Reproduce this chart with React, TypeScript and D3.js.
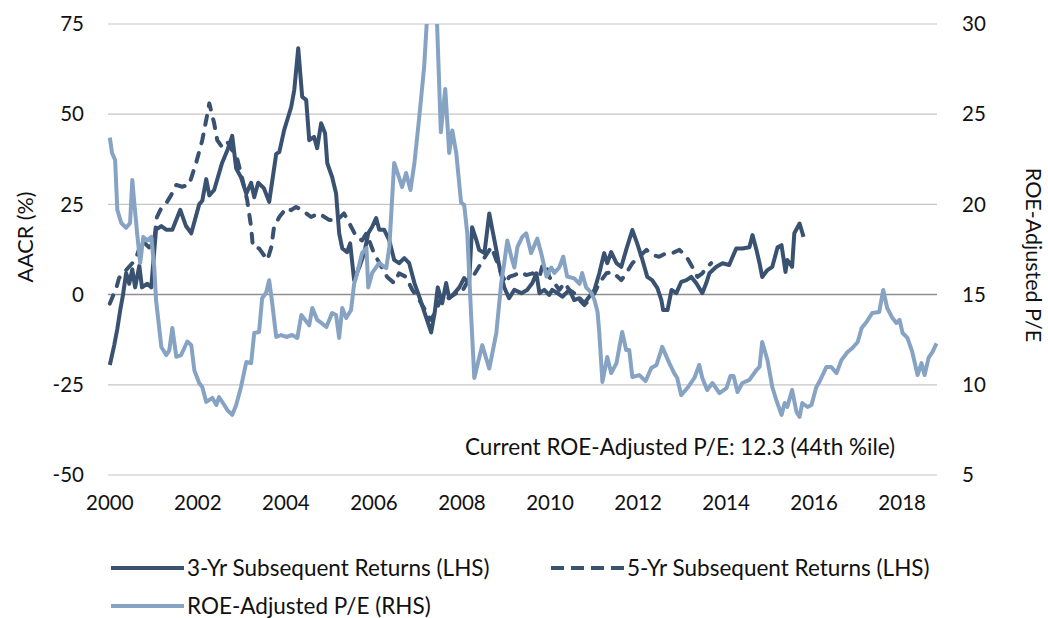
import React, { useEffect, useRef } from 'react';
import * as d3 from 'd3';

// decimal years
const threeYrDates = [2000, 2000.1, 2000.17, 2000.24, 2000.3, 2000.37, 2000.44, 2000.51, 2000.575, 2000.67, 2000.73, 2000.85, 2000.94,
  2001.05, 2001.17, 2001.28, 2001.42, 2001.6, 2001.73, 2001.85, 2002.03, 2002.1, 2002.19, 2002.26, 2002.37, 2002.55, 2002.67, 2002.78, 2002.87, 2002.98,
  2003.1, 2003.21, 2003.28, 2003.37, 2003.5, 2003.62, 2003.78, 2003.85, 2003.96, 2004.12, 2004.19, 2004.28, 2004.37, 2004.46, 2004.53, 2004.64, 2004.71, 2004.8, 2004.89, 2004.94,
  2005.05, 2005.14, 2005.21, 2005.28, 2005.39, 2005.46, 2005.55, 2005.67, 2005.78, 2005.87, 2005.96, 2006.05, 2006.12, 2006.23, 2006.35, 2006.46, 2006.57, 2006.69, 2006.8, 2006.92,
  2007.03, 2007.15, 2007.3, 2007.38, 2007.45, 2007.55, 2007.64, 2007.71, 2007.83, 2007.94, 2008.05, 2008.16, 2008.23, 2008.33, 2008.39, 2008.51, 2008.62, 2008.69, 2008.78, 2008.85, 2008.96,
  2009.07, 2009.19, 2009.35, 2009.48, 2009.6, 2009.69, 2009.76, 2009.87, 2009.98, 2010.05, 2010.17, 2010.28, 2010.44, 2010.55, 2010.67, 2010.78, 2010.89,
  2011.01, 2011.12, 2011.23, 2011.3, 2011.39, 2011.51, 2011.62, 2011.73, 2011.87, 2011.98, 2012.1, 2012.21, 2012.32, 2012.44, 2012.53, 2012.57, 2012.67, 2012.76, 2012.87, 2012.98,
  2013.1, 2013.21, 2013.32, 2013.46, 2013.55, 2013.62, 2013.78, 2013.92, 2014.07, 2014.23, 2014.37, 2014.53, 2014.6, 2014.69, 2014.76, 2014.82, 2014.94,
  2015.05, 2015.17, 2015.26, 2015.35, 2015.39, 2015.5, 2015.55, 2015.67, 2015.76];
const threeYrValues = [-19.5, -14, -9.5, -4, 0, 6, 3, 7, 2, 8, 2, 3, 2,
  18, 19, 18, 18, 23.5, 19, 17, 25, 26, 32, 27.5, 29, 36.5, 40, 44, 35, 32.5,
  28, 31, 27, 31, 29.5, 25.7, 39, 39.5, 45.6, 52, 56.7, 68.3, 54.8, 54, 42.8, 43.7, 40.6, 47.5, 44.7, 36.4,
  32.6, 28, 17, 12.8, 11.8, 14.2, 4, 7.7, 11.5, 17, 18.8, 21.2, 18, 18, 15, 9.6, 8.7, 10.1, 8.7, 3.2,
  -0.6, -5, -10.5, -5, 2, -2.4, 3.2, -1, 0.4, 2, 4.6, 3, 18.7, 15, 12.4, 11.5, 22.5, 18, 12.4, 7.7, 2,
  -1, 1.3, 0.4, 1.3, 3.2, 5.9, 0.4, 1.3, -0.1, 1.3, 0.4, -0.6, 1.3, -1.5, -1, -2.4, -0.6,
  1.3, 5.9, 11.5, 8.7, 11.8, 8.7, 7.7, 12.4, 17.9, 14.2, 9.6, 4.9, 4, 1.8, -1.5, -4.3, -4.3, 1.3, 0.4, 3.5,
  4, 4.9, 3.2, 0.4, 3.2, 5.9, 7.7, 8.7, 8.2, 12.8, 12.8, 13.1, 16.5, 12.4, 8.7, 4.9, 6.8,
  7.7, 13.1, 13.7, 6.3, 9.6, 7.7, 17, 19.7, 16];

const fiveYrDates = [2000, 2000.15, 2000.21, 2000.37, 2000.51, 2000.62, 2000.73, 2000.89, 2001.0, 2001.07, 2001.17, 2001.3, 2001.39, 2001.51, 2001.64, 2001.8, 2001.96,
  2002.1, 2002.19, 2002.26, 2002.37, 2002.44, 2002.55, 2002.67, 2002.78, 2002.89, 2003.0, 2003.12, 2003.21, 2003.25, 2003.39, 2003.58, 2003.67, 2003.73, 2003.85,
  2004.01, 2004.12, 2004.23, 2004.37, 2004.57, 2004.75, 2004.98, 2005.17, 2005.32, 2005.44, 2005.6, 2005.73, 2005.83, 2006.0, 2006.17, 2006.3, 2006.46, 2006.57, 2006.73, 2006.87,
  2007.03, 2007.15, 2007.28, 2007.4, 2007.55, 2007.7, 2007.87, 2007.98, 2008.1, 2008.25, 2008.4, 2008.55, 2008.67, 2008.78, 2008.89,
  2009.0, 2009.07, 2009.19, 2009.35, 2009.46, 2009.6, 2009.76, 2009.82, 2009.91, 2009.98, 2010.1, 2010.21, 2010.33, 2010.44, 2010.55, 2010.67, 2010.78, 2010.89,
  2011.01, 2011.12, 2011.28, 2011.42, 2011.62, 2011.73, 2011.87, 2012.03, 2012.19, 2012.32, 2012.48, 2012.64, 2012.78, 2012.94,
  2013.1, 2013.23, 2013.35, 2013.46, 2013.57, 2013.66];
const fiveYrValues = [-2.5, 2, 4.6, 6.8, 8.7, 11, 15, 13.1, 14.2, 21.5, 24, 25.7, 27.5, 30.4, 29.9, 30.4, 36.5,
  42.8, 48.4, 53, 47.5, 42.8, 40.9, 42.3, 40, 37.8, 32.6, 26.2, 18.7, 13.2, 12.8, 9.6, 13.2, 18.7, 21.5,
  24, 23.4, 24.3, 23.4, 21.5, 22.5, 20.7, 20.7, 22.5, 19.8, 16, 15, 17, 11.5, 7.7, 4.9, 3.2, 5.9, 4.9, 1.3,
  -1.5, -4, -7, -5, 0, -1, 0.4, 0.4, 3, 5, 8, 11, 13.2, 9.6, 5.9,
  3.2, 4.9, 5.4, 6.3, 5.4, 5.9, 4.9, 7.7, 8.7, 4.9, 3.2, 1.3, 3.2, 1.3, 0.4, -1.5, -2.9, -1.5,
  0.4, 3.2, 5.9, 6.3, 4, 5.9, 8.7, 10.5, 12.4, 11, 10.5, 11.5, 11.5, 12.4,
  10.5, 7.7, 4.9, 5.9, 7.7, 8.7];

const peDates = [2000, 2000.05, 2000.12, 2000.17, 2000.26, 2000.37, 2000.46, 2000.51, 2000.55, 2000.62, 2000.69, 2000.76, 2000.85, 2000.94,
  2001.01, 2001.05, 2001.17, 2001.28, 2001.35, 2001.42, 2001.51, 2001.62, 2001.76, 2001.85, 2001.92, 2002.03, 2002.1, 2002.19, 2002.33, 2002.42, 2002.48, 2002.6, 2002.67, 2002.78, 2002.87, 2002.98,
  2003.1, 2003.21, 2003.28, 2003.39, 2003.46, 2003.55, 2003.62, 2003.69, 2003.78, 2003.89, 2004.01, 2004.14, 2004.26, 2004.35, 2004.53, 2004.6, 2004.71, 2004.82, 2004.92,
  2005.05, 2005.14, 2005.21, 2005.28, 2005.37, 2005.48, 2005.55, 2005.6, 2005.73, 2005.83, 2005.87, 2005.96, 2006.12, 2006.28, 2006.35, 2006.46, 2006.57, 2006.64, 2006.73, 2006.83, 2006.92,
  2007.03, 2007.14, 2007.21, 2007.3, 2007.42, 2007.52, 2007.62, 2007.71, 2007.78, 2007.87, 2007.98, 2008.05, 2008.12, 2008.21, 2008.28, 2008.46, 2008.62, 2008.78, 2008.89, 2008.96,
  2009.03, 2009.12, 2009.19, 2009.26, 2009.37, 2009.46, 2009.57, 2009.71, 2009.8, 2009.92, 2010.03, 2010.1, 2010.21, 2010.3, 2010.39, 2010.55, 2010.67, 2010.73, 2010.82, 2010.94,
  2011.01, 2011.08, 2011.12, 2011.19, 2011.3, 2011.39, 2011.51, 2011.64, 2011.73, 2011.8, 2011.87, 2012.03, 2012.17, 2012.3, 2012.42, 2012.55, 2012.71, 2012.82, 2012.89, 2012.98,
  2013.12, 2013.28, 2013.39, 2013.46, 2013.57, 2013.69, 2013.85, 2014.01, 2014.1, 2014.17, 2014.26, 2014.37, 2014.53, 2014.69, 2014.76, 2014.82, 2014.94,
  2015.05, 2015.14, 2015.26, 2015.33, 2015.39, 2015.5, 2015.6, 2015.67, 2015.73, 2015.85, 2015.94, 2016.05, 2016.12, 2016.28, 2016.39, 2016.51, 2016.62, 2016.76, 2016.87, 2016.99,
  2017.08, 2017.19, 2017.32, 2017.48, 2017.57, 2017.66, 2017.78, 2017.87, 2017.94, 2018.01, 2018.12, 2018.23, 2018.35, 2018.44, 2018.51, 2018.6, 2018.69, 2018.78];
const peValues = [23.7, 22.85, 22.46, 19.7, 18.97, 18.7, 18.97, 21.35, 20.24, 18.4, 16.75, 18.2, 18.0, 18.2,
  16.5, 14.7, 12.1, 11.65, 11.9, 13.15, 11.55, 11.65, 12.4, 12.2, 10.8, 10.1, 9.88, 9.05, 9.27, 8.88, 9.32, 8.88, 8.6, 8.33, 8.88, 9.88,
  11.26, 11.2, 12.87, 12.93, 14.8, 15.1, 15.8, 14.5, 12.65, 12.76, 12.65, 12.76, 12.6, 13.87, 13.3, 14.26, 13.6, 13.4, 13.2,
  13.98, 13.87, 12.6, 14.26, 13.7, 14.15, 15.6, 16.0, 17.3, 17.58, 15.4, 16.2, 16.75, 16.47, 17.64, 22.3, 21.5, 20.96, 21.74, 20.8, 22.3,
  24.85, 27.6, 30.5, 33, 31, 24.0, 26.4, 22.85, 24.1, 22.85, 20.1, 19.97, 18.4, 13.76, 10.38, 12.2, 10.9, 12.87, 15.6, 16.75,
  18.0, 17.1, 16.5, 17.64, 18.2, 18.4, 17.3, 18.1, 17.3, 16.0, 16.5, 16.2, 16.5, 17.1, 16.0, 15.9, 15.6, 16.2, 15.4, 15.1,
  14.7, 14.04, 12.87, 10.16, 11.54, 10.65, 11.2, 12.93, 11.93, 11.93, 10.43, 10.54, 10.2, 10.93, 11.1, 12.1, 11.2, 10.65, 10.38, 9.43,
  9.82, 10.38, 11.1, 10.38, 9.71, 10.1, 9.54, 9.82, 10.49, 10.49, 9.6, 10.1, 10.27, 10.82, 10.99, 12.37, 11.37,
  9.88, 9.16, 8.33, 8.99, 8.77, 9.71, 8.5, 8.22, 8.99, 8.77, 8.88, 9.88, 10.16, 10.99, 10.99, 10.65, 11.37, 11.82, 12.04, 12.37,
  13.15, 13.48, 13.98, 14.04, 15.26, 14.26, 13.7, 13.43, 13.6, 12.87, 12.6, 11.82, 10.54, 11.2, 10.54, 11.49, 11.82, 12.3];

const yearTicks = [2000, 2002, 2004, 2006, 2008, 2010, 2012, 2014, 2016, 2018];
const leftTicks = [75, 50, 25, 0, -25, -50];
const rightTicks = [30, 25, 20, 15, 10, 5];

const darkBlue = '#3a5272';
const lightBlue = '#87a3c4';
const font = 'Lato, "Noto Sans", sans-serif';

function App() {
  const ref = useRef<SVGSVGElement>(null);

  useEffect(() => {
    const width = 1048;
    const height = 618;
    const plot = { left: 108, right: 937, top: 24, bottom: 475 };

    const svg = d3.select(ref.current);
    svg.selectAll('*').remove();

    const x = d3.scaleLinear()
      .domain([2000 - 1 / 24, 2018 + 9 / 12 + 1 / 24])
      .range([plot.left, plot.right]);
    const yL = d3.scaleLinear().domain([-50, 75]).range([plot.bottom, plot.top]);
    const yR = d3.scaleLinear().domain([5, 30]).range([plot.bottom, plot.top]);

    svg.append('rect').attr('width', width).attr('height', height).attr('fill', 'white');

    svg.append('defs').append('clipPath').attr('id', 'plot-clip')
      .append('rect')
      .attr('x', plot.left - 4).attr('y', plot.top)
      .attr('width', plot.right - plot.left + 8).attr('height', plot.bottom - plot.top + 10);

    // gridlines
    svg.append('g').selectAll('line')
      .data(leftTicks)
      .enter()
      .append('line')
      .attr('x1', plot.left).attr('x2', plot.right)
      .attr('y1', (d) => yL(d)).attr('y2', (d) => yL(d))
      .attr('stroke', (d) => d === 0 ? '#8e8e8e' : '#c6c6c6')
      .attr('stroke-width', (d) => d === 0 ? 1.5 : 1.2);

    const tickSize = '20.5px';
    const textSize = '21.5px';

    // left ticks
    svg.append('g').selectAll('text')
      .data(leftTicks)
      .enter()
      .append('text')
      .attr('x', 84).attr('y', (d) => yL(d))
      .attr('dy', '0.35em')
      .attr('text-anchor', 'end')
      .style('font-family', font).style('font-size', tickSize).attr('fill', '#111')
      .text((d) => d);

    // right ticks
    svg.append('g').selectAll('text')
      .data(rightTicks)
      .enter()
      .append('text')
      .attr('x', 962).attr('y', (d) => yR(d))
      .attr('dy', '0.35em')
      .style('font-family', font).style('font-size', tickSize).attr('fill', '#111')
      .text((d) => d);

    // x ticks
    svg.append('g').selectAll('text')
      .data(yearTicks)
      .enter()
      .append('text')
      .attr('x', (d) => x(d)).attr('y', 503)
      .attr('dy', '0.35em')
      .attr('text-anchor', 'middle')
      .style('font-family', font).style('font-size', tickSize).attr('fill', '#111')
      .text((d) => d);

    // axis titles
    svg.append('text')
      .attr('transform', 'translate(25, 237) rotate(-90)')
      .attr('dy', '0.35em')
      .attr('text-anchor', 'middle')
      .style('font-family', font).style('font-size', textSize).attr('fill', '#111')
      .text('AACR (%)');

    svg.append('text')
      .attr('transform', 'translate(1034, 255) rotate(90)')
      .attr('dy', '0.35em')
      .attr('text-anchor', 'middle')
      .style('font-family', font).style('font-size', textSize).attr('fill', '#111')
      .text('ROE-Adjusted P/E');

    const lines = svg.append('g').attr('clip-path', 'url(#plot-clip)');

    const leftLine = d3.line<[number, number]>()
      .x((d) => x(d[0]))
      .y((d) => yL(d[1]));
    const rightLine = d3.line<[number, number]>()
      .x((d) => x(d[0]))
      .y((d) => yR(d[1]));

    const zip = (a: number[], b: number[]) => a.map((v, i) => [v, b[i]] as [number, number]);

    lines.append('path')
      .datum(zip(threeYrDates, threeYrValues))
      .attr('d', leftLine)
      .attr('fill', 'none')
      .attr('stroke', darkBlue)
      .attr('stroke-width', 4)
      .attr('stroke-linejoin', 'round');

    lines.append('path')
      .datum(zip(fiveYrDates, fiveYrValues))
      .attr('d', leftLine)
      .attr('fill', 'none')
      .attr('stroke', darkBlue)
      .attr('stroke-width', 4)
      .attr('stroke-dasharray', '9,10')
      .attr('stroke-linecap', 'round')
      .attr('stroke-linejoin', 'round');

    lines.append('path')
      .datum(zip(peDates, peValues))
      .attr('d', rightLine)
      .attr('fill', 'none')
      .attr('stroke', lightBlue)
      .attr('stroke-width', 4)
      .attr('stroke-linejoin', 'round');

    // annotation
    svg.append('text')
      .attr('x', 465).attr('y', 447)
      .attr('dy', '0.35em')
      .style('font-family', font).style('font-size', '22.5px').attr('fill', '#111')
      .text('Current ROE-Adjusted P/E: 12.3 (44th %ile)');

    // legend
    const legend = [
      { label: '3-Yr Subsequent Returns (LHS)', color: darkBlue, dash: null, x: 111, y: 568 },
      { label: '5-Yr Subsequent Returns (LHS)', color: darkBlue, dash: '13,7', x: 551, y: 568 },
      { label: 'ROE-Adjusted P/E (RHS)', color: lightBlue, dash: null, x: 111, y: 606 },
    ];
    const lg = svg.append('g').selectAll('g')
      .data(legend)
      .enter()
      .append('g')
      .attr('transform', (d) => `translate(${d.x}, ${d.y})`);
    lg.append('line')
      .attr('x1', 0).attr('x2', 73)
      .attr('stroke', (d) => d.color)
      .attr('stroke-width', 4)
      .attr('stroke-dasharray', (d) => d.dash);
    lg.append('text')
      .attr('x', 76)
      .attr('dy', '0.35em')
      .style('font-family', font).style('font-size', '22.5px').attr('fill', '#111')
      .text((d) => d.label);
  }, []);

  return (
    <svg ref={ref} width={1048} height={618}
      style={{ position: 'absolute', left: 0, top: 0, display: 'block' }} />
  );
}

export default App;
